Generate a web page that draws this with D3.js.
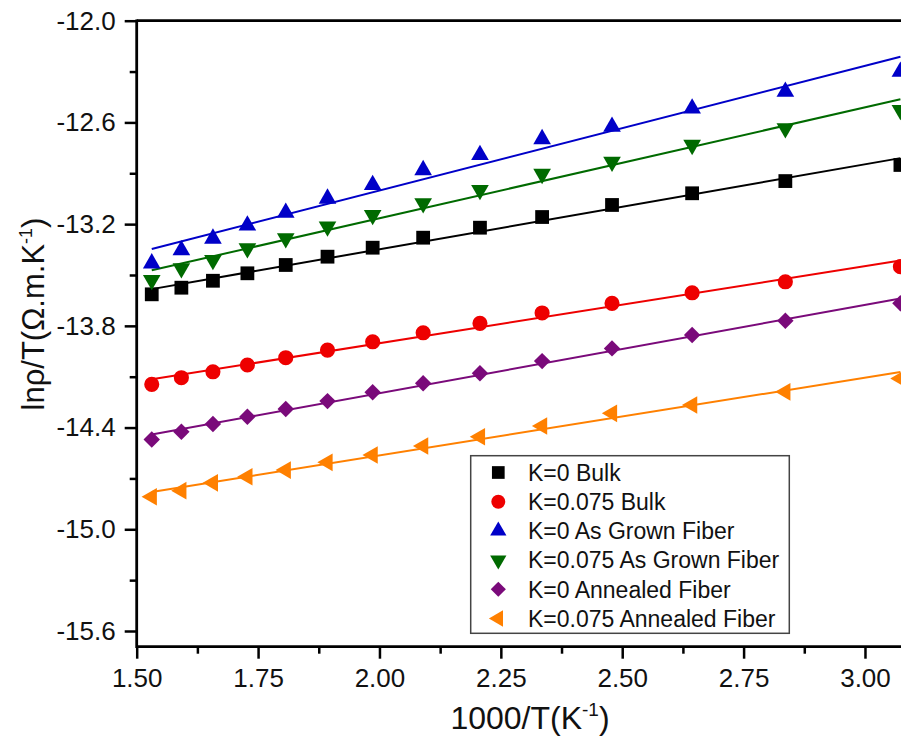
<!DOCTYPE html>
<html><head><meta charset="utf-8">
<script src="https://cdn.jsdelivr.net/npm/d3@7"></script>
<style>body{margin:0;background:#fff;overflow:hidden} svg{display:block}</style>
</head><body><svg id="c" width="901" height="737"></svg>
<script>
// ---- data ----
const xValues = [1.531, 1.592, 1.657, 1.728, 1.807, 1.893, 1.986, 2.090, 2.207, 2.335, 2.479, 2.644, 2.836, 3.073];
const k0Bulk = [-13.614, -13.575, -13.534, -13.490, -13.441, -13.392, -13.339, -13.280, -13.221, -13.158, -13.087, -13.018, -12.946, -12.851];
const k075Bulk = [-14.145, -14.106, -14.071, -14.031, -13.988, -13.943, -13.894, -13.841, -13.785, -13.724, -13.667, -13.605, -13.540, -13.451];
const k0AsGrown = [-13.431, -13.353, -13.285, -13.208, -13.132, -13.049, -12.969, -12.881, -12.792, -12.698, -12.625, -12.517, -12.419, -12.301];
const k075AsGrown = [-13.530, -13.461, -13.412, -13.343, -13.284, -13.215, -13.146, -13.077, -12.999, -12.904, -12.832, -12.733, -12.635, -12.527];
const k0Annealed = [-14.470, -14.425, -14.379, -14.336, -14.291, -14.244, -14.192, -14.139, -14.080, -14.008, -13.933, -13.854, -13.770, -13.667];
const k075Annealed = [-14.808, -14.772, -14.726, -14.690, -14.651, -14.605, -14.562, -14.509, -14.454, -14.391, -14.316, -14.267, -14.189, -14.110];
const seriesNames = ["K=0 Bulk", "K=0.075 Bulk", "K=0 As Grown Fiber", "K=0.075 As Grown Fiber", "K=0 Annealed Fiber", "K=0.075 Annealed Fiber"];
const seriesValues = [k0Bulk, k075Bulk, k0AsGrown, k075AsGrown, k0Annealed, k075Annealed];
const xTicks = [1.50, 1.75, 2.00, 2.25, 2.50, 2.75, 3.00];
const yTicks = [-12.0, -12.6, -13.2, -13.8, -14.4, -15.0, -15.6];
const xTitle = "1000/T(K";
const yTitle = "lnρ/T(Ω.m.K";

// ---- styles ----
const colors = ["#000000", "#ee0000", "#0000c8", "#006a00", "#7a0a7a", "#ff8000"];
const shapes = [
  {type: d3.symbolSquare, size: 190, rot: 0},
  {type: d3.symbolCircle, size: 180, rot: 0},
  {type: d3.symbolTriangle, size: 135, rot: 0},
  {type: d3.symbolTriangle, size: 135, rot: 180},
  {type: d3.symbolSquare, size: 135, rot: 45},
  {type: d3.symbolTriangle, size: 135, rot: -90}
];
const FONT = "'Liberation Sans', Arial, sans-serif";
const hy = f => d => f(d).replace("\u2212", "-");

const svg = d3.select("#c");
const L = 136.7, R = 901, T = 20.7, B = 646.7;
const x = d3.scaleLinear().domain([1.5, 3.0742]).range([L, R]);
const y = d3.scaleLinear().domain([-15.6926, -12.0]).range([B, T]);

// fit lines (least squares on each series)
function fit(xs, ys) {
  const mx = d3.mean(xs), my = d3.mean(ys);
  let sxy = 0, sxx = 0;
  xs.forEach((v, i) => { sxy += (v - mx) * (ys[i] - my); sxx += (v - mx) * (v - mx); });
  const b = sxy / sxx; return {b, a: my - b * mx};
}
const line = d3.line().x(d => x(d[0])).y(d => y(d[1]));
seriesValues.forEach((vals, i) => {
  const f = fit(xValues, vals);
  const x0 = d3.min(xValues), x1 = d3.max(xValues);
  svg.append("path").attr("d", line([[x0, f.a + f.b * x0], [x1, f.a + f.b * x1]]))
    .attr("stroke", colors[i]).attr("stroke-width", 2).attr("fill", "none");
});

// markers
seriesValues.forEach((vals, i) => {
  const sym = d3.symbol().type(shapes[i].type).size(shapes[i].size);
  svg.append("g").selectAll("path").data(vals).join("path")
    .attr("d", sym)
    .attr("transform", (d, j) => `translate(${x(xValues[j])},${y(d)}) rotate(${shapes[i].rot})`)
    .attr("fill", colors[i]);
});

// axes
const xAxis = svg.append("g").attr("transform", `translate(0,${B})`)
  .call(d3.axisBottom(x).tickValues(xTicks).tickFormat(d3.format(".2f")).tickSize(12).tickPadding(10));
const xMinor = svg.append("g").attr("transform", `translate(0,${B})`)
  .call(d3.axisBottom(x).tickValues(d3.range(1.625, 3.1, 0.25)).tickFormat("").tickSize(7));
const yAxis = svg.append("g").attr("transform", `translate(${L},0)`)
  .call(d3.axisLeft(y).tickValues(yTicks).tickFormat(hy(d3.format(".1f"))).tickSize(12).tickPadding(9));
const yMinor = svg.append("g").attr("transform", `translate(${L},0)`)
  .call(d3.axisLeft(y).tickValues([-12.3, -12.9, -13.5, -14.1, -14.7, -15.3]).tickFormat("").tickSize(7));
[xAxis, xMinor, yAxis, yMinor].forEach(g => {
  g.select(".domain").remove();
  g.selectAll("line").attr("stroke", "#000").attr("stroke-width", 2.5);
  g.selectAll("text").attr("font-family", FONT).attr("font-size", 26).attr("fill", "#111");
});
xAxis.selectAll("text").attr("dy", "0.72em");
// frame lines
svg.append("line").attr("x1", L).attr("x2", R + 5).attr("y1", B).attr("y2", B).attr("stroke", "#000").attr("stroke-width", 2.8);
svg.append("line").attr("x1", L).attr("x2", L).attr("y1", T - 1.3).attr("y2", B + 1.3).attr("stroke", "#000").attr("stroke-width", 2.8);
svg.append("line").attr("x1", L).attr("x2", R + 5).attr("y1", T).attr("y2", T).attr("stroke", "#000").attr("stroke-width", 2.8);

// axis titles
const xt = svg.append("text").attr("x", 530).attr("y", 729).attr("text-anchor", "middle")
  .attr("font-family", FONT).attr("font-size", 32).attr("fill", "#111");
xt.append("tspan").text(xTitle);
xt.append("tspan").attr("font-size", 19).attr("dy", -13).text("-1");
xt.append("tspan").attr("dy", 13).text(")");

const yt = svg.append("text").attr("transform", "translate(44,314) rotate(-90)").attr("text-anchor", "middle")
  .attr("font-family", FONT).attr("font-size", 31).attr("fill", "#111");
yt.append("tspan").text(yTitle);
yt.append("tspan").attr("font-size", 18).attr("dy", -12).text("-1");
yt.append("tspan").attr("dy", 12).text(")");

// legend
const lg = svg.append("g");
lg.append("rect").attr("x", 470.7).attr("y", 455.7).attr("width", 318.6).attr("height", 177.6)
  .attr("fill", "#fff").attr("stroke", "#444").attr("stroke-width", 1.5);
seriesNames.forEach((name, i) => {
  const cy = 472.5 + i * 29.2;
  const sym = d3.symbol().type(shapes[i].type).size(shapes[i].size * 0.85);
  lg.append("path").attr("d", sym).attr("transform", `translate(498.3,${cy}) rotate(${shapes[i].rot})`).attr("fill", colors[i]);
  lg.append("text").attr("x", 528).attr("y", cy).attr("dy", "0.36em")
    .attr("font-family", FONT).attr("font-size", 23).attr("fill", "#111").text(name);
});
</script></body></html>
